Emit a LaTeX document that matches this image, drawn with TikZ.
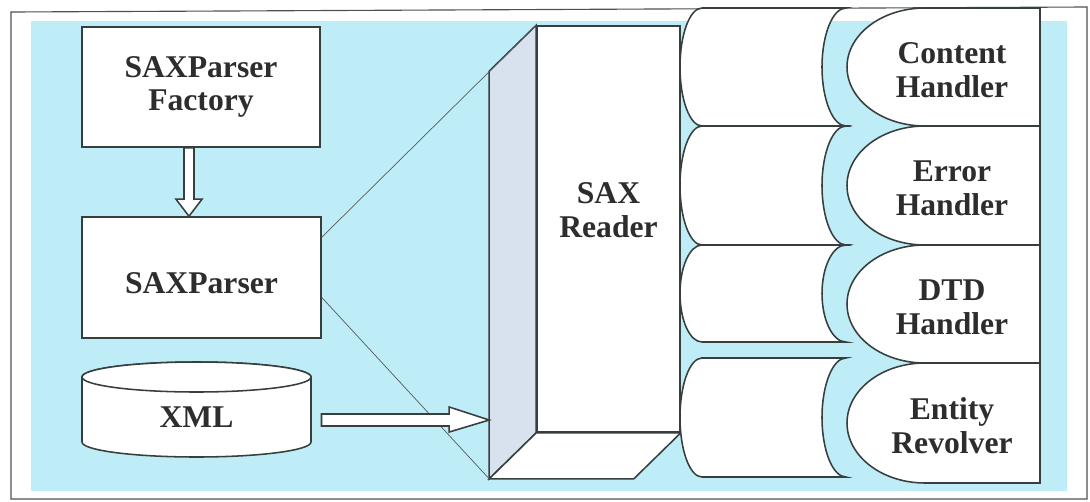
\documentclass[tikz,border=0pt]{standalone}
\usepackage{fontspec}
\setmainfont{Liberation Serif}
\usetikzlibrary{calc}
\definecolor{bgblue}{RGB}{190,236,247}
\definecolor{sideface}{RGB}{216,226,239}
\definecolor{edge}{RGB}{55,62,62}
\definecolor{ink}{RGB}{45,45,45}
\tikzset{
  box/.style={draw=edge, fill=white, line width=1.1pt, inner sep=0pt},
  lbl/.style={font=\fontsize{22.5}{24}\selectfont\bfseries, text=ink, align=center},
  part/.style={draw=edge, fill=white, line width=1.1pt},
  hollow/.style={draw=edge, fill=white, line width=1.1pt, line join=miter},
  guide/.style={draw=edge!85, line width=0.5pt},
}

\begin{document}
\begin{tikzpicture}[x=0.025cm, y=-0.025cm]
  \useasboundingbox (0,0) rectangle (1090,501);
  % background and frame
  \fill[bgblue] (31,21) rectangle (1067,491);
  \draw[edge!90, line width=0.8pt] (11,12) -- (1087,7) -- (1087,499) -- (11,499) -- cycle;

  % factory and parser
  \node[box, lbl, minimum width=5.95cm, minimum height=3cm] (factory) at (201,87) {SAXParser\\Factory};
  \node[box, minimum width=5.975cm, minimum height=3.025cm] (parser) at (201.5,277.5) {};
  \node[lbl] (parsertext) at ($(parser)+(0,6)$) {SAXParser};

  \coordinate (a1) at ($(factory.south)+(-12,0)$);
  \coordinate (a2) at ($(parser.north)+(-12.5,0)$);
  \draw[hollow] ($(a1)+(-5,0)$) -- ($(a2)+(-5,-17)$) -- ($(a2)+(-13,-17)$) -- (a2)
    -- ($(a2)+(13,-17)$) -- ($(a2)+(5,-17)$) -- ($(a1)+(5,0)$) -- cycle;

  % xml store
  \coordinate (db) at (196.5,409.5);
  \filldraw[part] ($(db)+(-114.5,-32.5)$) -- ($(db)+(-114.5,32.5)$)
    arc[start angle=180, end angle=0, x radius=114.5, y radius=15]
    -- ($(db)+(114.5,-32.5)$)
    arc[start angle=0, end angle=-180, x radius=114.5, y radius=15] -- cycle;
  \draw[part] ($(db)+(0,-32.5)$) ellipse[x radius=114.5, y radius=15];
  \node[lbl] (xml) at ($(db)+(0,7.5)$) {XML};

  % sax reader
  \node[box, minimum width=3.575cm, minimum height=10.15cm] (reader) at (608.5,229) {};
  \coordinate (sidetop) at ($(reader.north west)+(-47,46)$);
  \coordinate (sidebot) at ($(reader.south west)+(-47,46)$);
  \coordinate (botright) at ($(reader.south east)+(-47,46)$);
  \filldraw[part, fill=sideface] (sidetop) -- (reader.north west) -- (reader.south west) -- (sidebot) -- cycle;
  \filldraw[part] (reader.south west) -- (reader.south east) -- (botright) -- (sidebot) -- cycle;
  \node[lbl] (readertext) at ($(reader)+(0,-19)$) {SAX\\Reader};

  \draw[guide] ($(parser.north east)+(0,21)$) -- (reader.north west);
  \draw[guide] ($(parser.east)+(0,20)$) -- (sidebot);

  \coordinate (b1) at ($(xml)+(125,3)$);
  \coordinate (b2) at ($(sidetop |- xml)+(0,3)$);
  \draw[hollow] ($(b1)+(0,-6)$) -- ($(b2)+(-40,-6)$) -- ($(b2)+(-40,-13)$) -- (b2)
    -- ($(b2)+(-40,12)$) -- ($(b2)+(-40,6)$) -- ($(b1)+(0,6)$) -- cycle;

  % sockets
  \foreach \t/\b in {8/126, 126/245, 245/342, 358/477} {
    \filldraw[part] (702,\t) -- (846,\t)
      arc[start angle=270, end angle=90, x radius=24, y radius={(\b-\t)/2}]
      -- (702,\b)
      arc[start angle=90, end angle=270, x radius=22, y radius={(\b-\t)/2}] -- cycle;
  }

  % handlers
  \foreach \t/\b/\name/\txt in {8/126/content/{Content\\Handler}, 126/245/error/{Error\\Handler},
      245/363/dtd/{DTD\\Handler}, 363/483/entity/{Entity\\Revolver}} {
    \filldraw[part] (1040,\t) -- (925,\t)
      arc[start angle=270, end angle=90, x radius=78, y radius={(\b-\t)/2}]
      -- (1040,\b) -- cycle;
    \node[lbl] (\name) at (952,{(\t+\b)/2+3}) {\txt};
  }
\end{tikzpicture}
\end{document}
